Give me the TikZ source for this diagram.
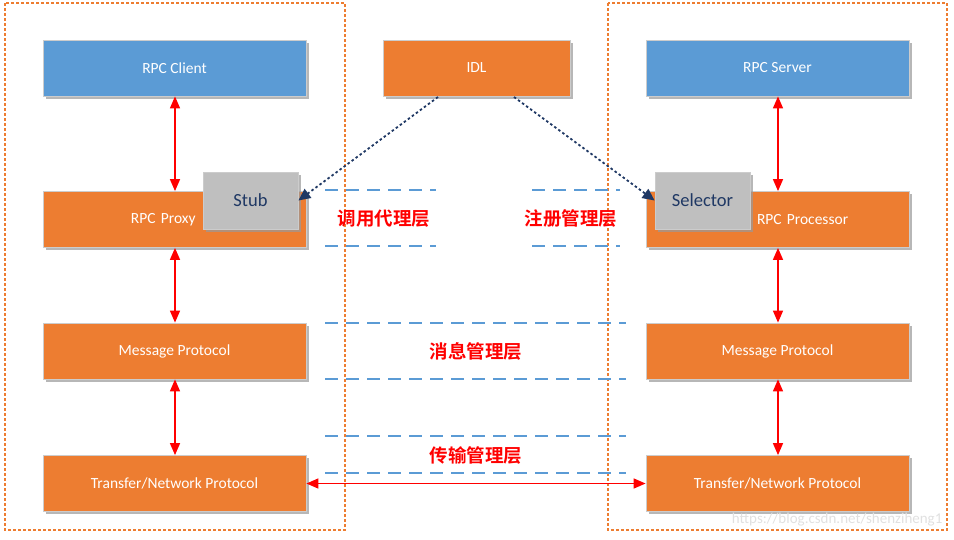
\documentclass[tikz,border=0pt]{standalone}
\usepackage{fontspec}
\setmainfont{Carlito}
\newfontfamily\cjk{Noto Sans CJK SC}[BoldFont={Noto Sans CJK SC Bold}]
\usetikzlibrary{shadows,arrows.meta}
\definecolor{obox}{HTML}{ED7D31}
\definecolor{bbox}{HTML}{5B9BD5}
\definecolor{gbox}{HTML}{BFBFBF}
\definecolor{navy}{HTML}{1F3864}
\definecolor{dblue}{HTML}{5B9BD5}
\tikzset{
  base/.style={draw=black!20, line width=0.8pt, minimum width=263pt, minimum height=56pt, inner sep=0pt,
    text=white, font=\fontsize{15.5}{17}\selectfont,
    drop shadow={shadow xshift=2.5pt, shadow yshift=-2.5pt, fill=black!40, opacity=0.7}},
  orbox/.style={base, fill=obox},
  blbox/.style={base, fill=bbox},
  grbox/.style={base, fill=gbox, minimum width=95pt, minimum height=57pt, text=navy, font=\fontsize{18.5}{20}\selectfont},
  frame/.style={draw=obox, dashed, dash pattern=on 3pt off 2pt, line width=1.2pt},
  layer/.style={draw=dblue, line width=1.2pt, dash pattern=on 13pt off 8pt},
  redarrow/.style={draw=red, line width=1.5pt, {Triangle[length=12pt,width=10pt]}-{Triangle[length=12pt,width=10pt]}},
  idlarrow/.style={draw=navy, line width=1.8pt, dash pattern=on 2.5pt off 2.5pt, -{Triangle[length=12pt,width=11pt]}},
  lbl/.style={text=red, font=\cjk\bfseries\fontsize{18.5}{20}\selectfont}
}
\begin{document}
\begin{tikzpicture}[x=1pt,y=-1pt]
\useasboundingbox (0,0) rectangle (954,539);
% frames
\draw[frame] (5,3) rectangle (345,530);
\draw[frame] (608,3) rectangle (947,530);
% layer lines
\draw[layer] (325,190) -- (436,190);
\draw[layer] (325,246) -- (436,246);
\draw[layer] (532,190) -- (620,190);
\draw[layer] (532,246) -- (620,246);
\draw[layer] (325,323) -- (626,323);
\draw[layer] (325,379) -- (626,379);
\draw[layer] (325,436) -- (626,436);
\draw[layer] (325,473) -- (626,473);
% left column
\node[blbox] (client) at (174.5,68) {RPC Client};
\node[orbox, text width=263pt, align=left] (proxy) at (174.5,219.5) {\hspace*{88pt}RPC Proxy};
\node[grbox] (stub) at (250.5,200.5) {Stub};
\node[orbox] (msgl) at (174.5,351) {Message Protocol};
\node[orbox] (trl) at (174.5,483.5) {Transfer/Network Protocol};
% middle
\node[orbox, minimum width=187pt] (idl) at (476.5,68) {IDL};
% right column
\node[blbox] (server) at (777.5,68) {RPC Server};
\node[orbox, text width=263pt, align=left] (proc) at (777.5,219.5) {\hspace*{111pt}RPC Processor};
\node[grbox] (sel) at (702.5,200.5) {Selector};
\node[orbox] (msgr) at (777.5,351) {Message Protocol};
\node[orbox] (trr) at (777.5,483.5) {Transfer/Network Protocol};
% labels
\node[lbl] (l1) at (384,219) {调用代理层};
\node[lbl] (l2) at (571,219) {注册管理层};
\node[lbl] (l3) at (476,351) {消息管理层};
\node[lbl] (l4) at (476,455) {传输管理层};
% red arrows
\draw[redarrow] (client.south -| 175,0) -- (proxy.north -| 175,0);
\draw[redarrow] (proxy.south -| 175,0) -- (msgl.north -| 175,0);
\draw[redarrow] (msgl.south -| 175,0) -- (trl.north -| 175,0);
\draw[redarrow] (server.south -| 778,0) -- (proc.north -| 778,0);
\draw[redarrow] (proc.south -| 778,0) -- (msgr.north -| 778,0);
\draw[redarrow] (msgr.south -| 778,0) -- (trr.north -| 778,0);
\draw[redarrow] (trl.east) -- (trr.west);
% IDL arrows
\coordinate (ia) at (438,97);
\coordinate (ib) at (514,97);
\draw[idlarrow] (ia) -- (stub.east);
\draw[idlarrow] (ib) -- (sel.west);
% watermark
\node[text=black!12, font=\fontsize{15}{17}\selectfont, anchor=east] (wm) at (946,520) {https://blog.csdn.net/shenziheng1};
\end{tikzpicture}
\end{document}
